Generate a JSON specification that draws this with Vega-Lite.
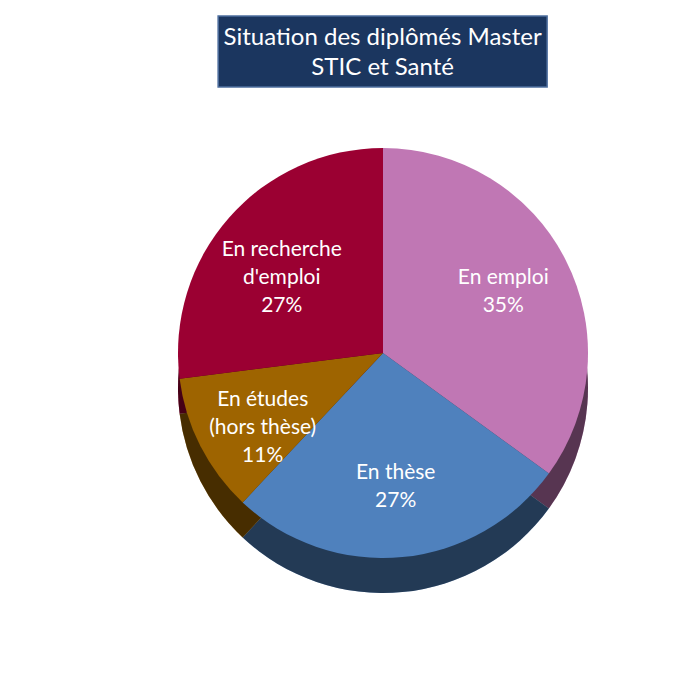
{
  "$schema": "https://vega.github.io/schema/vega-lite/v6.json",
  "background": "white",
  "padding": {"left": 153, "top": 15, "right": 0, "bottom": 0},
  "config": {"view": {"stroke": null}, "font": "Lato"},
  "center": true,
  "spacing": 35,
  "vconcat": [
    {
      "width": 329,
      "height": 71,
      "view": {"fill": "#1b365f", "stroke": "#4e6f9f", "strokeWidth": 1.5},
      "data": {"values": [{"titre": "Situation des diplômés Master\nSTIC et Santé"}]},
      "mark": {"type": "text", "color": "white", "fontSize": 24, "lineHeight": 30, "lineBreak": "\n", "dy": -14, "font": "Lato"},
      "encoding": {"text": {"field": "titre", "type": "nominal"}}
    },
    {
      "width": 460,
      "height": 460,
      "data": {
        "values": [
          {"categorie": "En emploi", "libelle": "En emploi", "pct": 35, "ordre": 1},
          {"categorie": "En thèse", "libelle": "En thèse", "pct": 27, "ordre": 2},
          {"categorie": "En études (hors thèse)", "libelle": "En études\n(hors thèse)", "pct": 11, "ordre": 3},
          {"categorie": "En recherche d'emploi", "libelle": "En recherche\nd'emploi", "pct": 27, "ordre": 4}
        ]
      },
      "layer": [
        {
          "mark": {"type": "arc", "outerRadius": 205, "yOffset": 35},
          "encoding": {
            "theta": {"field": "pct", "type": "quantitative", "stack": true},
            "order": {"field": "ordre", "type": "quantitative"},
            "color": {
              "field": "categorie", "type": "nominal", "legend": null,
              "scale": {
                "domain": ["En emploi", "En thèse", "En études (hors thèse)", "En recherche d'emploi"],
                "range": ["#c077b4", "#4f81bd", "#9e6400", "#9b0032"]
              }
            }
          }
        },
        {
          "mark": {"type": "arc", "outerRadius": 205, "yOffset": 35, "color": "#000000", "opacity": 0.55},
          "encoding": {
            "theta": {"field": "pct", "type": "quantitative", "stack": true},
            "order": {"field": "ordre", "type": "quantitative"}
          }
        },
        {
          "mark": {"type": "arc", "outerRadius": 205},
          "encoding": {
            "theta": {"field": "pct", "type": "quantitative", "stack": true},
            "order": {"field": "ordre", "type": "quantitative"},
            "color": {"field": "categorie", "type": "nominal", "legend": null}
          }
        },
        {
          "transform": [{"calculate": "datum.libelle + '\\n' + datum.pct + '%'", "as": "etiquette"}],
          "mark": {"type": "text", "radius": 135, "fontSize": 21, "lineHeight": 28, "lineBreak": "\n", "dy": -14, "color": "white", "font": "Lato"},
          "encoding": {
            "theta": {"field": "pct", "type": "quantitative", "stack": true},
            "order": {"field": "ordre", "type": "quantitative"},
            "text": {"field": "etiquette", "type": "nominal"}
          }
        }
      ]
    }
  ]
}
